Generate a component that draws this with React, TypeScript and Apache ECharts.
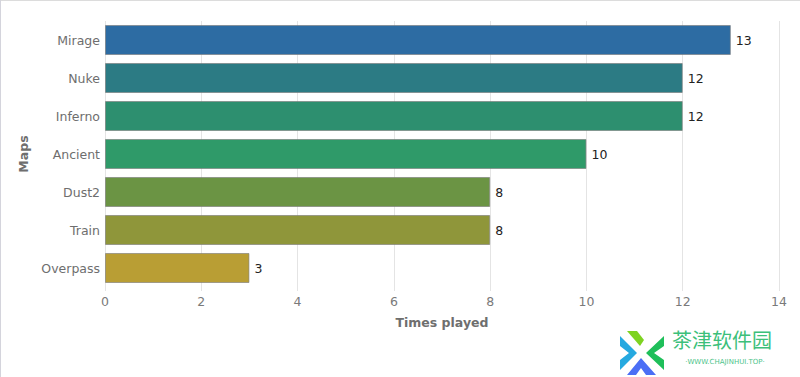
import React, { useEffect, useRef } from "react";
import * as echarts from "echarts";

const maps = ["Mirage", "Nuke", "Inferno", "Ancient", "Dust2", "Train", "Overpass"];
const timesPlayed = [13, 12, 12, 10, 8, 8, 3];
const barColors = ["#2d6ca3", "#2c7b84", "#2d8f6f", "#2f9a69", "#6b9444", "#8f963a", "#b99e34"];
const xTicks = { min: 0, max: 14, interval: 2 };

export default function App() {
  const ref = useRef<HTMLDivElement>(null);
  useEffect(() => {
    document.body.style.margin = "0";
    const chart = echarts.init(ref.current!, null, { renderer: "svg" });
    const font = "'DejaVu Sans', Verdana, sans-serif";
    chart.setOption({
      animation: false,
      backgroundColor: "#ffffff",
      grid: { left: 105, right: 21, top: 21, bottom: 90, containLabel: false },
      xAxis: {
        type: "value",
        min: xTicks.min,
        max: xTicks.max,
        interval: xTicks.interval,
        name: "Times played",
        nameLocation: "middle",
        nameGap: 29,
        nameTextStyle: { color: "#6e6e6e", fontWeight: "bold", fontSize: 12.5, fontFamily: font },
        axisLine: { show: false },
        axisTick: { show: true, length: 4, lineStyle: { color: "#e4e4e4" } },
        axisLabel: { color: "#7a7a7a", fontSize: 12.5, fontFamily: font, margin: 8 },
        splitLine: { show: true, lineStyle: { color: "#e4e4e4", width: 1 } },
      },
      yAxis: {
        type: "category",
        data: maps,
        inverse: true,
        name: "Maps",
        nameLocation: "middle",
        nameGap: 72,
        nameRotate: 90,
        nameTextStyle: { color: "#6e6e6e", fontWeight: "bold", fontSize: 12.5, fontFamily: font },
        axisLine: { show: false },
        axisTick: { show: false },
        axisLabel: { color: "#6e6e6e", fontSize: 12.5, fontFamily: font, margin: 5 },
        splitLine: { show: false },
      },
      series: [
        {
          type: "bar",
          data: timesPlayed.map((v, i) => ({ value: v, itemStyle: { color: barColors[i] } })),
          barCategoryGap: "21%",
          itemStyle: { borderColor: "rgba(120,120,120,0.6)", borderWidth: 1 },
          label: {
            show: true,
            position: "right",
            distance: 5,
            color: "#222222",
            fontSize: 12.5,
            fontFamily: font,
          },
        },
      ],
      graphic: [
        { type: "line", shape: { x1: 0, y1: 0.5, x2: 800, y2: 0.5 }, style: { stroke: "#dcdcdc", lineWidth: 1 }, silent: true },
        { type: "line", shape: { x1: 0.5, y1: 0, x2: 0.5, y2: 377 }, style: { stroke: "#d4d4dc", lineWidth: 1 }, silent: true },
        { type: "polygon", shape: { points: [[627, 331], [637, 331], [644, 340], [640, 346]] }, style: { fill: "#7ed321" }, silent: true },
        { type: "polygon", shape: { points: [[664, 336], [664, 346], [654, 353], [664, 360], [664, 370], [646, 353]] }, style: { fill: "#1fbf5a" }, silent: true },
        { type: "polygon", shape: { points: [[620, 336], [637, 353], [620, 370], [620, 360], [629, 353], [620, 346]] }, style: { fill: "#26a9e0" }, silent: true },
        { type: "polygon", shape: { points: [[627, 375], [641, 358], [656, 375], [646, 375], [641, 368], [636, 375]] }, style: { fill: "#4b6ef5" }, silent: true },
        { type: "text", x: 672, y: 339, style: { text: "茶津软件园", fill: "#3cc07a", fontSize: 20, fontFamily: "'Noto Sans CJK SC', sans-serif", verticalAlign: "middle", align: "left" }, silent: true },
        { type: "text", x: 725, y: 362, style: { text: "·WWW.CHAJINHUI.TOP·", fill: "#4cc48a", fontSize: 7, fontFamily: "'DejaVu Sans', sans-serif", verticalAlign: "middle", align: "center" }, silent: true },
      ],
    });
    return () => chart.dispose();
  }, []);
  return <div ref={ref} style={{ position: "absolute", left: 0, top: 0, width: 800, height: 377 }} />;
}
